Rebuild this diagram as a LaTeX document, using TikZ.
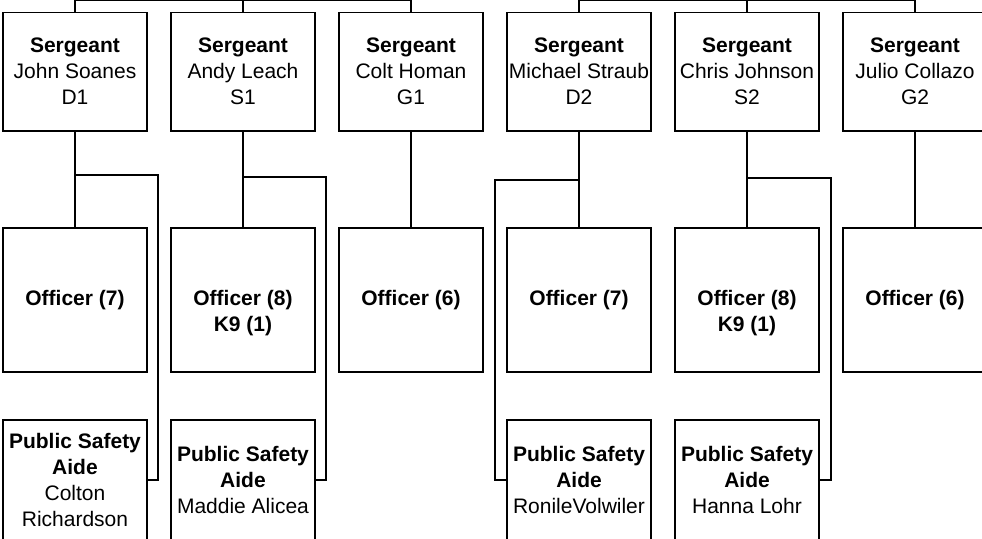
\documentclass[tikz,border=0pt]{standalone}
\usepackage{fontspec}
\setmainfont{Liberation Sans}
\tikzset{box/.style={draw, line width=1pt, inner sep=0pt, align=center, font=\fontsize{15.75}{19.5}\selectfont},
  sgtbox/.style={box, minimum width=108pt, minimum height=89pt},
  offbox/.style={box, minimum width=108pt, minimum height=108pt, font=\fontsize{15.75}{19.5}\selectfont\bfseries},
  aidebox/.style={box, minimum width=108pt, minimum height=90pt},
  link/.style={draw, line width=0.8pt}}

\begin{document}
\begin{tikzpicture}[x=0.75pt,y=-0.75pt]
  \clip (0,0) rectangle (982,539);
  % sergeants
  \node[sgtbox] (s1) at ( 75,71.5) {\textbf{Sergeant}\\John Soanes\\D1};
  \node[sgtbox] (s2) at (243,71.5) {\textbf{Sergeant}\\Andy Leach\\S1};
  \node[sgtbox] (s3) at (411,71.5) {\textbf{Sergeant}\\Colt Homan\\G1};
  \node[sgtbox] (s4) at (579,71.5) {\textbf{Sergeant}\\Michael Straub\\D2};
  \node[sgtbox] (s5) at (747,71.5) {\textbf{Sergeant}\\Chris Johnson\\S2};
  \node[sgtbox] (s6) at (915,71.5) {\textbf{Sergeant}\\Julio Collazo\\G2};
  % officers
  \node[offbox] (o1) at ( 75,300) {Officer (7)};
  \node[offbox] (o2) at (243,300) {\strut\\Officer (8)\\K9 (1)\strut};
  \node[offbox] (o3) at (411,300) {Officer (6)};
  \node[offbox] (o4) at (579,300) {Officer (7)};
  \node[offbox] (o5) at (747,300) {\strut\\Officer (8)\\K9 (1)\strut};
  \node[offbox] (o6) at (915,300) {Officer (6)};
  % aides
  \node[aidebox] (a1) at ( 75,480) {\textbf{Public Safety}\\\textbf{Aide}\\Colton\\Richardson};
  \node[aidebox] (a2) at (243,480) {\textbf{Public Safety}\\\textbf{Aide}\\Maddie Alicea};
  \node[aidebox] (a4) at (579,480) {\textbf{Public Safety}\\\textbf{Aide}\\RonileVolwiler};
  \node[aidebox] (a5) at (747,480) {\textbf{Public Safety}\\\textbf{Aide}\\Hanna Lohr};
  % top lines
  \coordinate (bus) at (0,0.5);
  \draw[link] (s1.north) -- (s1.north |- bus) -- (s3.north |- bus) -- (s3.north);
  \draw[link] (s2.north) -- (s2.north |- bus);
  \draw[link] (s4.north) -- (s4.north |- bus) -- (s6.north |- bus) -- (s6.north);
  \draw[link] (s5.north) -- (s5.north |- bus);
  % sergeant to officers
  \draw[link] (s1) -- (o1);
  \draw[link] (s2) -- (o2);
  \draw[link] (s3) -- (o3);
  \draw[link] (s4) -- (o4);
  \draw[link] (s5) -- (o5);
  \draw[link] (s6) -- (o6);
  % aides
  \coordinate (j1) at ( 75,175); \coordinate (r1) at (158,480);
  \coordinate (j2) at (243,177); \coordinate (r2) at (326,480);
  \coordinate (j4) at (579,180); \coordinate (r4) at (495,480);
  \coordinate (j5) at (747,178); \coordinate (r5) at (831,480);
  \draw[link] (j1) -| (r1) -- (a1.east);
  \draw[link] (j2) -| (r2) -- (a2.east);
  \draw[link] (j4) -| (r4) -- (a4.west);
  \draw[link] (j5) -| (r5) -- (a5.east);
\end{tikzpicture}
\end{document}
